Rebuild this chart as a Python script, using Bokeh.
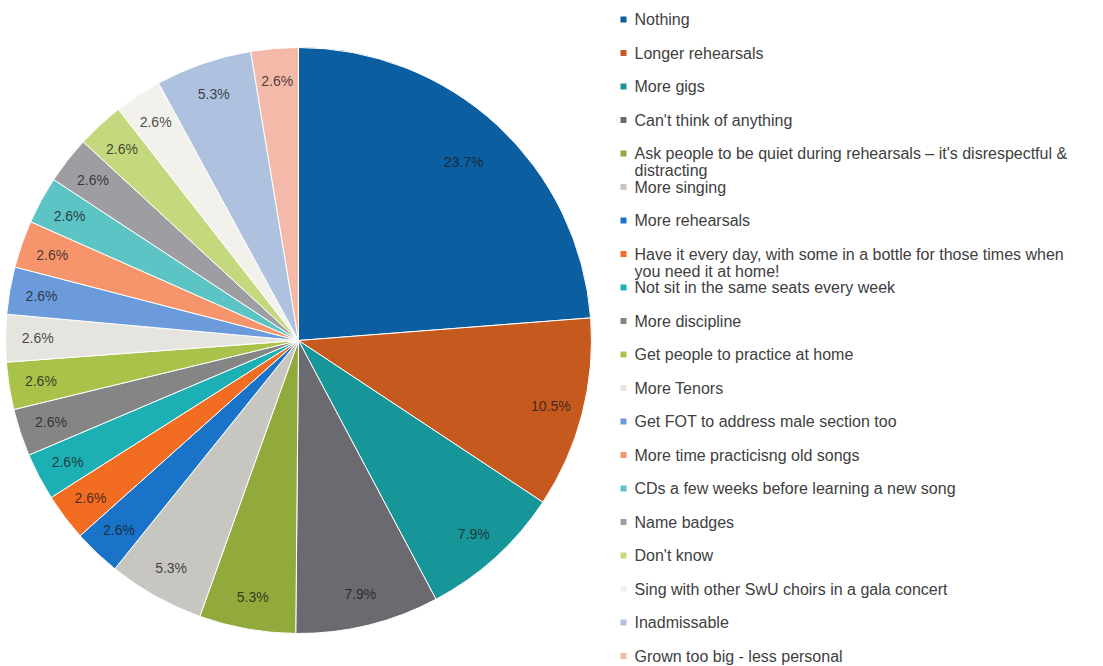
import textwrap
import numpy as np
from bokeh.plotting import figure
from bokeh.models import Range1d, ColumnDataSource
from bokeh.core.properties import value
from bokeh.embed import file_html
from bokeh.resources import INLINE

categories = [
    "Nothing",
    "Longer rehearsals",
    "More  gigs",
    "Can't think of anything",
    "Ask people to be quiet during rehearsals \u2013 it's disrespectful & distracting",
    "More singing",
    "More rehearsals",
    "Have it every day, with some in a bottle for those times when you need it at home!",
    "Not sit in the same seats every week",
    "More discipline",
    "Get people to practice at home",
    "More Tenors",
    "Get FOT to address male section too",
    "More time practicisng old songs",
    "CDs a few weeks before learning a new song",
    "Name badges",
    "Don't know",
    "Sing with other SwU choirs in a gala concert",
    "Inadmissable",
    "Grown too big - less personal",
]
percentages = [23.7, 10.5, 7.9, 7.9, 5.3, 5.3, 2.6, 2.6, 2.6, 2.6,
               2.6, 2.6, 2.6, 2.6, 2.6, 2.6, 2.6, 2.6, 5.3, 2.6]

palette = [
    "#0B5E9F", "#C65A1E", "#17969A", "#6A6A70", "#92A93C", "#C8C6C0",
    "#1873C9", "#F26C22", "#1CB0B5", "#858585", "#A8C24A", "#E6E4DE",
    "#6B9BDB", "#F6956B", "#5CC4C4", "#9E9EA2", "#C4D87E", "#F2F1EC",
    "#AEC2E0", "#F4B9A8",
]

W, H = 1103, 666
p = figure(width=W, height=H, output_backend="svg", toolbar_location=None,
           x_range=Range1d(0, W), y_range=Range1d(0, H),
           x_axis_location=None, y_axis_location=None, min_border=0)
p.grid.visible = False
p.outline_line_color = None
p.background_fill_color = "white"
p.border_fill_color = "white"

# pie
cx, cy, R = 298, 326, 293
vals = np.array(percentages, dtype=float)
frac = vals / vals.sum()
cum_end = np.cumsum(frac)
cum_start = cum_end - frac
start = np.pi / 2 - 2 * np.pi * cum_end
end = np.pi / 2 - 2 * np.pi * cum_start
src = ColumnDataSource(dict(start=start, end=end, color=palette))
p.wedge(x=cx, y=cy, radius=R, start_angle="start", end_angle="end",
        fill_color="color", line_color="white", line_width=1, source=src)

mid = 2 * np.pi * (cum_start + cum_end) / 2
rl = np.where(frac > 0.2, 0.83, 0.89) * R
lx = cx + rl * np.sin(mid)
ly = cy + rl * np.cos(mid)
labels = [f"{v:.1f}%" for v in percentages]
p.text(x=lx, y=ly, text=labels, text_align="center", text_baseline="middle",
       text_font=value("Liberation Sans"), text_font_size="14px",
       text_color="#1a1a1a", text_alpha=0.8)

# legend
row0, step, lh = 647, 33.5, 17
sq_x, tx = 623, 634
sx, sy, tlx, tly, tl = [], [], [], [], []
for i, c in enumerate(categories):
    y = row0 - step * i
    sx.append(sq_x)
    sy.append(y)
    for j, line in enumerate(textwrap.wrap(c, 63)):
        tlx.append(tx)
        tly.append(y - j * lh)
        tl.append(line)
p.rect(x=sx, y=sy, width=6, height=6, fill_color=palette, line_color=None)
p.text(x=tlx, y=tly, text=tl, text_align="left", text_baseline="middle",
       text_font=value("Liberation Sans"), text_font_size="16px",
       text_color="#404040")

open("out.html", "w").write(file_html(p, INLINE))
